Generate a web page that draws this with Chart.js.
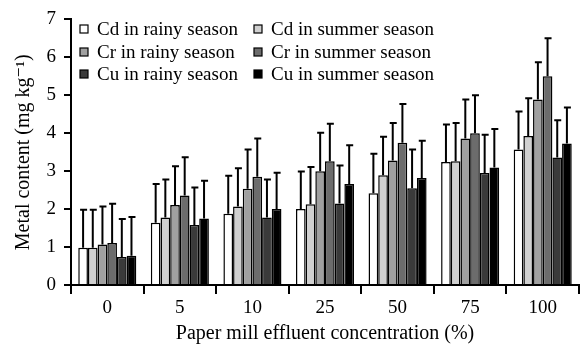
<!DOCTYPE html>
<html>
<head>
<meta charset="utf-8">
<script src="https://cdn.jsdelivr.net/npm/chart.js@4/dist/chart.umd.min.js"></script>
<style>
    body { margin: 0; background: #fff; }
</style>
</head>
<body>
<canvas id="metalChart" width="583" height="349"></canvas>
<script>
const concentrations = ['0', '5', '10', '25', '50', '75', '100'];
const seriesNames = ['Cd in rainy season', 'Cd in summer season', 'Cr in rainy season',
    'Cr in summer season', 'Cu in rainy season', 'Cu in summer season'];

const cdRainy = [0.98, 1.64, 1.88, 2.00, 2.42, 3.24, 3.57];
const cdSummer = [0.98, 1.78, 2.07, 2.13, 2.89, 3.26, 3.93];
const crRainy = [1.07, 2.11, 2.54, 3.00, 3.28, 3.86, 4.89];
const crSummer = [1.11, 2.36, 2.85, 3.26, 3.75, 4.00, 5.50];
const cuRainy = [0.74, 1.58, 1.78, 2.15, 2.55, 2.95, 3.36];
const cuSummer = [0.77, 1.75, 2.00, 2.66, 2.82, 3.10, 3.73];

// upper error bar lengths
const cdRainyErr = [1.00, 1.02, 1.00, 0.99, 1.04, 0.99, 1.00];
const cdSummerErr = [1.00, 1.00, 1.01, 0.98, 1.02, 1.01, 0.99];
const crRainyErr = [1.00, 1.02, 1.03, 1.01, 0.99, 1.03, 0.98];
const crSummerErr = [1.03, 1.01, 1.01, 0.99, 1.02, 1.00, 1.00];
const cuRainyErr = [1.00, 0.99, 1.00, 1.00, 1.02, 1.01, 0.98];
const cuSummerErr = [1.02, 1.00, 0.96, 1.02, 0.98, 1.01, 0.95];

const yTicks = [0, 1, 2, 3, 4, 5, 6, 7];

const values = [cdRainy, cdSummer, crRainy, crSummer, cuRainy, cuSummer];
const errors = [cdRainyErr, cdSummerErr, crRainyErr, crSummerErr, cuRainyErr, cuSummerErr];
const fills = ['#ffffff', '#d0d0d0', '#a0a0a0', '#6c6c6c', '#3a3a3a', '#000000'];

const serif = "'Liberation Serif', 'DejaVu Serif', serif";

const errorBars = {
    id: 'errorBars',
    afterDatasetsDraw(chart) {
        const ctx = chart.ctx;
        const y = chart.scales.y;
        ctx.save();
        ctx.strokeStyle = '#000';
        ctx.lineWidth = 2;
        chart.data.datasets.forEach((ds, i) => {
            chart.getDatasetMeta(i).data.forEach((bar, j) => {
                const top = y.getPixelForValue(ds.data[j] + errors[i][j]);
                ctx.beginPath();
                ctx.moveTo(bar.x, bar.y);
                ctx.lineTo(bar.x, top);
                ctx.moveTo(bar.x - 3, top);
                ctx.lineTo(bar.x + 4, top);
                ctx.stroke();
            });
        });
        ctx.restore();
    }
};

const boxLegend = {
    id: 'boxLegend',
    afterDraw(chart) {
        const ctx = chart.ctx;
        const cols = [80, 254];
        const rows = [29, 52, 74];
        ctx.save();
        ctx.font = '19px ' + serif;
        ctx.textBaseline = 'middle';
        chart.data.datasets.forEach((ds, i) => {
            const x = cols[i % 2];
            const yc = rows[Math.floor(i / 2)];
            ctx.fillStyle = ds.backgroundColor;
            ctx.fillRect(x, yc - 4, 8, 8);
            ctx.strokeStyle = '#000';
            ctx.lineWidth = 1.2;
            ctx.strokeRect(x, yc - 4, 8, 8);
            ctx.fillStyle = '#000';
            ctx.fillText(ds.label, x + 17, yc + 1);
        });
        ctx.restore();
    }
};

const ctx = document.getElementById('metalChart').getContext('2d');
new Chart(ctx, {
    type: 'bar',
    data: {
        labels: concentrations,
        datasets: seriesNames.map((name, i) => ({
            label: name,
            data: values[i],
            backgroundColor: fills[i],
            borderColor: '#000',
            borderWidth: 1.5,
            barPercentage: 1,
            categoryPercentage: 0.8
        }))
    },
    options: {
        responsive: false,
        animation: false,
        layout: { padding: { left: 0, right: 4, top: 14, bottom: 0 } },
        plugins: { legend: { display: false }, tooltip: { enabled: false } },
        scales: {
            x: {
                afterFit: s => { s.height = 64; },
                border: { color: '#000', width: 2 },
                grid: { drawOnChartArea: false, color: '#000', lineWidth: 2, tickLength: 9 },
                ticks: { color: '#000', font: { family: serif, size: 19 }, padding: 3 },
                title: {
                    display: true,
                    text: 'Paper mill effluent concentration (%)',
                    color: '#000',
                    font: { family: serif, size: 20 },
                    padding: { top: 0, bottom: 3 }
                }
            },
            y: {
                min: 0,
                max: 7,
                afterFit: s => { s.width = 71; },
                afterBuildTicks: s => { s.ticks = yTicks.map(v => ({ value: v })); },
                border: { color: '#000', width: 2 },
                grid: { drawOnChartArea: false, color: '#000', lineWidth: 2, tickLength: 7 },
                ticks: { color: '#000', font: { family: serif, size: 19 }, padding: 8 },
                title: {
                    display: true,
                    text: 'Metal content (mg kg⁻¹)',
                    color: '#000',
                    font: { family: serif, size: 20 },
                    padding: { top: 12, bottom: 0 }
                }
            }
        }
    },
    plugins: [errorBars, boxLegend]
});
</script>
</body>
</html>
